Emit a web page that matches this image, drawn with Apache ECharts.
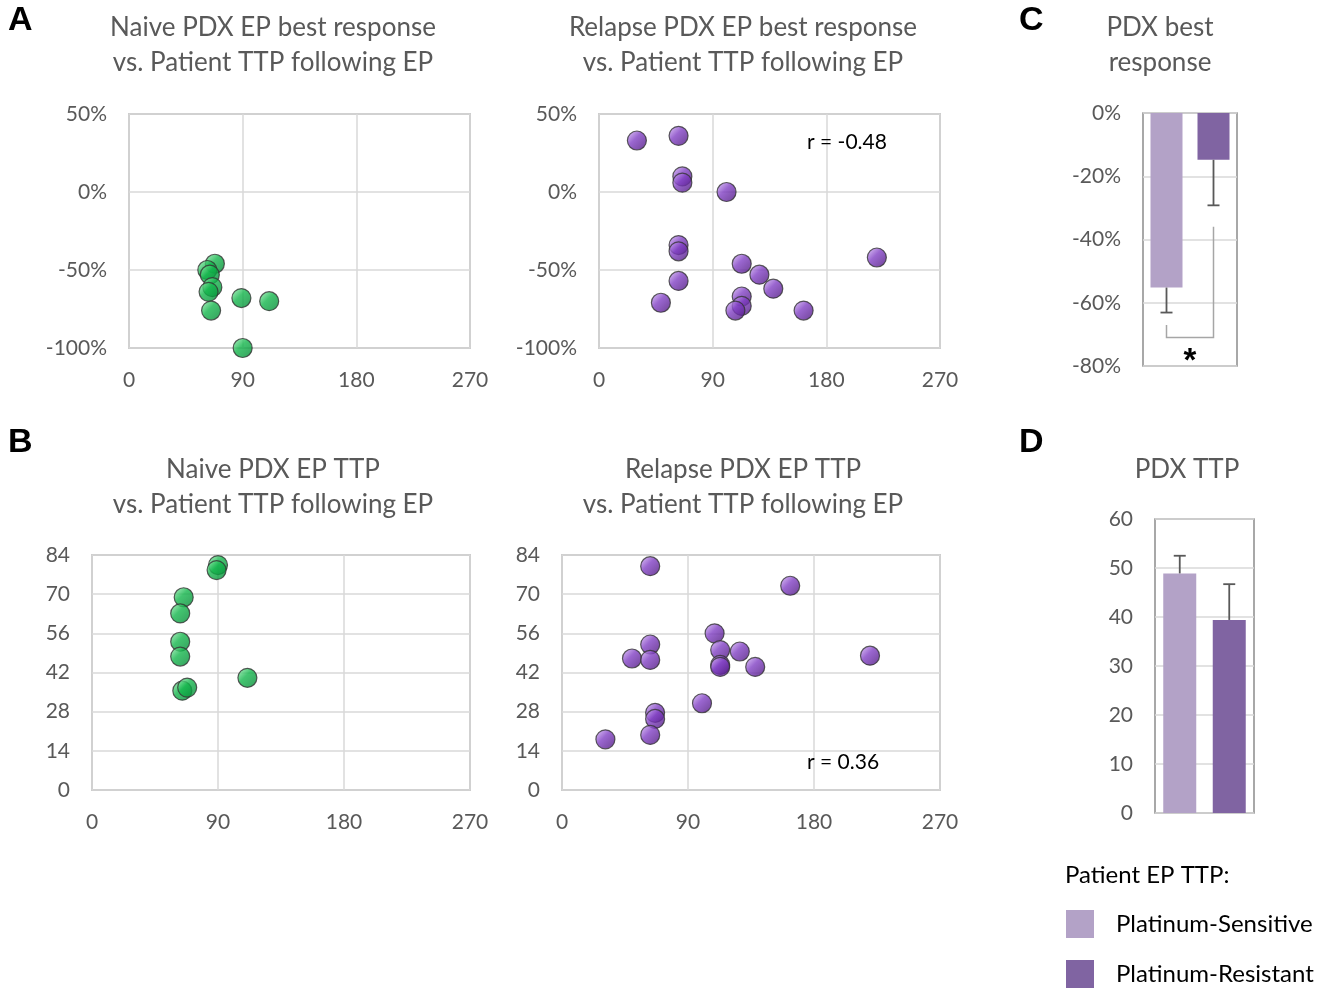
<!DOCTYPE html>
<html>
<head>
<meta charset="utf-8">
<script src="https://cdn.jsdelivr.net/npm/echarts@6/dist/echarts.min.js"></script>
<style>
  html, body { margin: 0; padding: 0; background: #fff; }
  #main { width: 1334px; height: 988px; }
</style>
</head>
<body>
<div id="main"></div>
<script>
// patient TTP (days) vs PDX best response (%)
const naiveBrX = [68, 62, 64, 66, 63, 65, 89, 111, 90];
const naiveBrY = [-46, -50, -53, -61, -64, -76, -68, -70, -100];

const relapseBrX = [30, 63, 66, 66, 101, 63, 63, 220, 113, 127, 63, 138, 113, 49, 113, 108, 162];
const relapseBrY = [33, 36, 10, 6, 0, -34, -38, -42, -46, -53, -57, -62, -67, -71, -73, -76, -76];

// patient TTP (days) vs PDX TTP
const naiveTtpX = [90, 89, 65.5, 63, 63, 63, 111, 64.5, 68];
const naiveTtpY = [80.4, 78.6, 68.9, 63.1, 53, 47.7, 40.1, 35.5, 36.6];

const relapseTtpX = [63, 163, 109, 63, 50, 63, 113, 127, 113, 113, 138, 220, 100, 66.5, 66.5, 63, 31];
const relapseTtpY = [80, 73, 56, 52, 47, 46.5, 50, 49.5, 44.7, 44, 44, 48, 31, 27.6, 25.4, 19.7, 18.1];

// bar panels: Platinum-Sensitive, Platinum-Resistant
const groups = ['Platinum-Sensitive', 'Platinum-Resistant'];
const bestRespMean = [-55.2, -14.8];
const bestRespErr = [-63.1, -29.2];
const ttpMean = [48.9, 39.4];
const ttpErr = [52.5, 46.7];

// significance bracket in panel C (category index, value)
const bracketPts = [[0, -67], [0, -71], [1, -71], [1, -36]];
const starY = -78.8;

const rBest = 'r = -0.48';
const rTtp = 'r = 0.36';

const font = 'Lato, "Open Sans", sans-serif';
const gray = '#595959';
const lightPurple = '#B3A2C7';
const darkPurple = '#8064A2';

const dom = document.getElementById('main');
const myChart = echarts.init(dom, null, { renderer: 'canvas' });

function zip(xs, ys) {
  return xs.map((x, i) => [x, ys[i]]);
}

const purpleBall = {
  type: 'linear', x: 0.1, y: 0.1, x2: 0.9, y2: 0.9,
  colorStops: [
    { offset: 0, color: '#c9a4ee' },
    { offset: 0.4, color: '#8140c4' },
    { offset: 1, color: '#531a86' }
  ]
};
const greenBall = {
  type: 'linear', x: 0.1, y: 0.1, x2: 0.9, y2: 0.9,
  colorStops: [
    { offset: 0, color: '#86e4a2' },
    { offset: 0.4, color: '#14b64c' },
    { offset: 1, color: '#058e38' }
  ]
};

function panelTitle(text, x, y) {
  return {
    text: text, left: x, top: y, textAlign: 'center', padding: 0,
    textStyle: { fontFamily: font, fontWeight: 'normal', fontSize: 26, color: gray, lineHeight: 35 }
  };
}
function letter(text, x, y) {
  return {
    text: text, left: x, top: y, padding: 0,
    textStyle: { fontFamily: '"Liberation Sans", Arial, sans-serif', fontWeight: 'bold', fontSize: 34, color: '#000' }
  };
}

const axisLabelStyle = { fontFamily: font, fontSize: 21, color: gray };

function scatterX(gi) {
  return {
    gridIndex: gi, type: 'value', min: 0, max: 270, interval: 90,
    axisLine: { show: false }, axisTick: { show: false },
    axisLabel: Object.assign({ margin: 22 }, axisLabelStyle),
    splitLine: { lineStyle: { color: '#D9D9D9', width: 1.5 } }
  };
}
function valueY(gi, min, max, interval, pct) {
  return {
    gridIndex: gi, type: 'value', min: min, max: max, interval: interval,
    axisLine: { show: false }, axisTick: { show: false },
    axisLabel: Object.assign({ margin: 22, formatter: pct ? '{value}%' : '{value}' }, axisLabelStyle),
    splitLine: { lineStyle: { color: '#D9D9D9', width: 1.5 } }
  };
}
function catX(gi) {
  return {
    gridIndex: gi, type: 'category', data: groups,
    axisLine: { show: false }, axisTick: { show: false }, axisLabel: { show: false },
    splitLine: { show: false }
  };
}

function scatterSeries(gi, data, color) {
  return {
    type: 'scatter', xAxisIndex: gi, yAxisIndex: gi, data: data,
    symbolSize: 19,
    itemStyle: { color: color, borderColor: '#333333', borderWidth: 1.2 },
    emphasis: { disabled: true }
  };
}

function errorSeries(gi, means, ends) {
  return {
    type: 'custom', xAxisIndex: gi, yAxisIndex: gi, z: 5,
    data: means.map((m, i) => [i, m, ends[i]]),
    renderItem: function (params, api) {
      const p1 = api.coord([api.value(0), api.value(1)]);
      const p2 = api.coord([api.value(0), api.value(2)]);
      const style = { stroke: gray, lineWidth: 1.8 };
      return {
        type: 'group',
        children: [
          { type: 'line', shape: { x1: p1[0], y1: p1[1], x2: p2[0], y2: p2[1] }, style: style },
          { type: 'line', shape: { x1: p2[0] - 6, y1: p2[1], x2: p2[0] + 6, y2: p2[1] }, style: style }
        ]
      };
    }
  };
}

function barPair(gi, values, width) {
  return groups.map((g, i) => ({
    name: g, type: 'bar', xAxisIndex: gi, yAxisIndex: gi,
    barWidth: width, barGap: '-100%',
    data: values.map((v, j) => (j === i ? v : '-')),
    itemStyle: { color: i === 0 ? lightPurple : darkPurple },
    emphasis: { disabled: true }
  }));
}

const scatterGridStyle = { show: true, borderColor: '#A6A6A6', borderWidth: 1.5, containLabel: false };
const barGridStyle = { show: true, borderColor: '#8C8C8C', borderWidth: 1.5, containLabel: false };

const option = {
  animation: false,
  backgroundColor: '#fff',
  title: [
    letter('A', 8, 4),
    letter('B', 8, 426),
    letter('C', 1019, 4),
    letter('D', 1019, 426),
    panelTitle('Naive PDX EP best response\nvs. Patient TTP following EP', 273, 10),
    panelTitle('Relapse PDX EP best response\nvs. Patient TTP following EP', 743, 10),
    panelTitle('PDX best\nresponse', 1160, 10),
    panelTitle('Naive PDX EP TTP\nvs. Patient TTP following EP', 273, 452),
    panelTitle('Relapse PDX EP TTP\nvs. Patient TTP following EP', 743, 452),
    panelTitle('PDX TTP', 1187, 452),
    {
      text: rBest, left: 807, top: 132, padding: 0,
      textStyle: { fontFamily: font, fontWeight: 'normal', fontSize: 21, color: '#000' }
    },
    {
      text: rTtp, left: 807, top: 752, padding: 0,
      textStyle: { fontFamily: font, fontWeight: 'normal', fontSize: 21, color: '#000' }
    },
    {
      text: 'Patient EP TTP:', left: 1065, top: 863, padding: 0,
      textStyle: { fontFamily: font, fontWeight: 'normal', fontSize: 24, color: '#000' }
    }
  ],
  legend: {
    data: groups, orient: 'vertical', left: 1066, top: 910, padding: 0,
    itemWidth: 28, itemHeight: 28, itemGap: 22, icon: 'rect', selectedMode: false,
    textStyle: { fontFamily: font, fontSize: 24, color: '#000', padding: [6, 0, 0, 17] }
  },
  grid: [
    Object.assign({ left: 129, top: 114, width: 341, height: 234 }, scatterGridStyle),
    Object.assign({ left: 599, top: 114, width: 341, height: 234 }, scatterGridStyle),
    Object.assign({ left: 1143, top: 113, width: 94, height: 253 }, barGridStyle),
    Object.assign({ left: 92, top: 555, width: 378, height: 235 }, scatterGridStyle),
    Object.assign({ left: 562, top: 555, width: 378, height: 235 }, scatterGridStyle),
    Object.assign({ left: 1155, top: 519, width: 99, height: 294 }, barGridStyle)
  ],
  xAxis: [
    scatterX(0), scatterX(1), catX(2), scatterX(3), scatterX(4), catX(5)
  ],
  yAxis: [
    valueY(0, -100, 50, 50, true),
    valueY(1, -100, 50, 50, true),
    valueY(2, -80, 0, 20, true),
    valueY(3, 0, 84, 14, false),
    valueY(4, 0, 84, 14, false),
    valueY(5, 0, 60, 10, false)
  ],
  series: [
    scatterSeries(0, zip(naiveBrX, naiveBrY), greenBall),
    scatterSeries(1, zip(relapseBrX, relapseBrY), purpleBall),
    scatterSeries(3, zip(naiveTtpX, naiveTtpY), greenBall),
    scatterSeries(4, zip(relapseTtpX, relapseTtpY), purpleBall),
    ...barPair(2, bestRespMean, 32),
    errorSeries(2, bestRespMean, bestRespErr),
    ...barPair(5, ttpMean, 33),
    errorSeries(5, ttpMean, ttpErr),
    {
      type: 'custom', xAxisIndex: 2, yAxisIndex: 2, z: 5,
      data: [[0]],
      renderItem: function (params, api) {
        const pts = bracketPts.map(p => api.coord(p));
        const a = api.coord([0, starY]);
        const b = api.coord([1, starY]);
        return {
          type: 'group',
          children: [
            { type: 'polyline', shape: { points: pts }, style: { stroke: '#A6A6A6', lineWidth: 1.5, fill: null } },
            {
              type: 'text',
              style: {
                text: '*', x: (a[0] + b[0]) / 2, y: a[1],
                align: 'center', verticalAlign: 'middle',
                font: 'bold 33px "Liberation Sans", Arial, sans-serif', fill: '#000'
              }
            }
          ]
        };
      }
    }
  ]
};

if (option && typeof option === 'object') {
  myChart.setOption(option);
}
</script>
</body>
</html>
